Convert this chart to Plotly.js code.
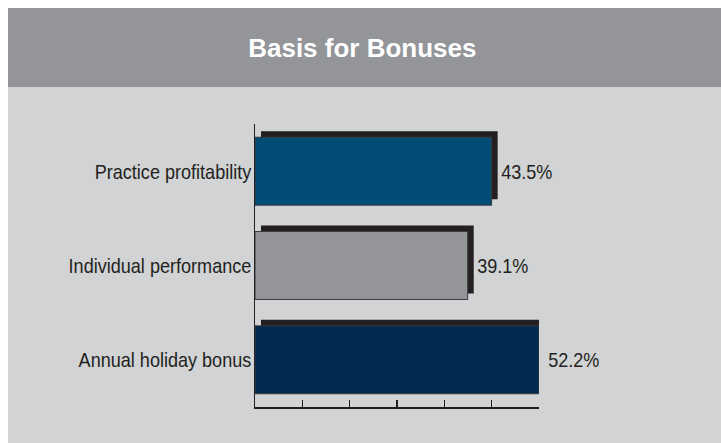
<!DOCTYPE html>
<html>
<head>
<meta charset="utf-8">
<script src="https://cdn.plot.ly/plotly-3.0.1.min.js"></script>
<style>
  html, body { margin: 0; padding: 0; background: #ffffff; }
  #chart { position: absolute; left: 8px; top: 8px; width: 713px; height: 435px; }
</style>
</head>
<body>
<div id="chart"></div>
<script>
// ---- data ----
const categories = ['Practice profitability', 'Individual performance', 'Annual holiday bonus'];
const values = [43.5, 39.1, 52.2];
const valueLabels = ['43.5%', '39.1%', '52.2%'];
const barColors = ['#004c77', '#939598', '#012a51'];
const tickVals = [0, 8.7, 17.4, 26.1, 34.8, 43.5, 52.2];
const chartTitle = 'Basis for Bonuses';

// ---- style ----
const FONT = "'Liberation Sans Narrow', 'Arial Narrow', 'Liberation Sans', Arial, sans-serif";
const ink = '#231f20';
const barWidth = 0.72;
const shadowDy = 0.0636;   // upward shift of shadow (category units)
const shadowDx = 1.1;      // rightward shift of shadow (value units)
const NARROW = 0.86;       // horizontal condensing of label text

const shadow = {
  type: 'bar', orientation: 'h',
  y: categories, x: values,
  base: values.map(() => shadowDx),
  width: barWidth, offset: -barWidth / 2 - shadowDy,
  marker: { color: ink, line: { width: 0 } },
  hoverinfo: 'skip', showlegend: false
};
const bars = {
  type: 'bar', orientation: 'h',
  y: categories, x: values,
  width: barWidth, offset: -barWidth / 2,
  marker: { color: barColors, line: { color: '#3a3a3c', width: 1 } },
  showlegend: false
};

const annotations = categories.map((c, i) => ({
  x: values[i], y: c, xref: 'x', yref: 'y',
  text: valueLabels[i], showarrow: false,
  xanchor: 'left', yanchor: 'middle', xshift: 3,
  font: { family: FONT, size: 21, color: ink }
}));

const layout = {
  width: 713, height: 435,
  margin: { l: 247, r: 182, t: 116, b: 36 },
  paper_bgcolor: '#d1d3d4', plot_bgcolor: 'rgba(0,0,0,0)',
  barmode: 'overlay',
  title: {
    text: chartTitle, x: 0.497, xanchor: 'center', y: 0.908, yanchor: 'middle',
    font: { family: "'Liberation Sans', Arial, sans-serif", size: 26, color: '#ffffff', weight: 'bold' }
  },
  xaxis: {
    range: [0, 52.2], tickmode: 'array', tickvals: tickVals, showticklabels: false,
    ticks: 'inside', ticklen: 7, tickwidth: 1.5, tickcolor: ink,
    showline: true, linecolor: ink, linewidth: 1.5,
    showgrid: false, zeroline: false, fixedrange: true
  },
  yaxis: {
    autorange: false, range: [2.5, -0.5], type: 'category',
    showline: true, linecolor: ink, linewidth: 1.5,
    ticks: '', showgrid: false, zeroline: false,
    tickfont: { family: FONT, size: 21, color: ink },
    ticklabelstandoff: -2, fixedrange: true
  },
  shapes: [{
    type: 'rect', xref: 'paper', yref: 'paper',
    x0: -2, x1: 3, y0: 1 + 37 / 283, y1: 1 + 116 / 283 + 0.01,
    fillcolor: '#939598', line: { width: 0 }, layer: 'below'
  }],
  annotations: annotations
};

function condense(gd) {
  const nodes = gd.querySelectorAll('.ytick text, .annotation-text');
  nodes.forEach(t => {
    const w = t.getComputedTextLength();
    if (w > 0) {
      t.setAttribute('textLength', (w * NARROW).toFixed(2));
      t.setAttribute('lengthAdjust', 'spacingAndGlyphs');
    }
  });
}

Plotly.newPlot('chart', [shadow, bars], layout, { displayModeBar: false, staticPlot: true })
  .then(gd => condense(gd));
</script>
</body>
</html>
